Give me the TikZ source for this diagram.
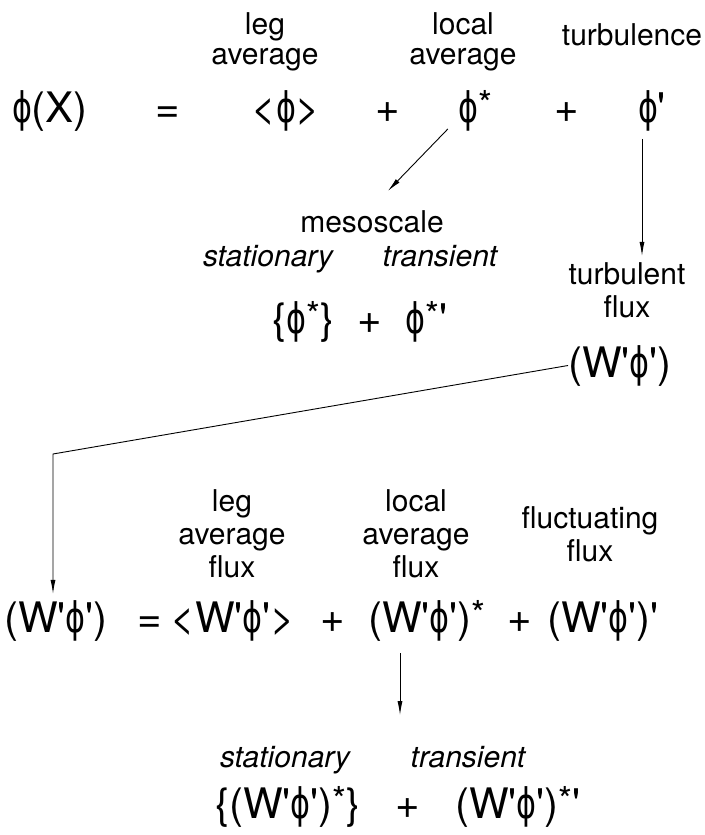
\documentclass[tikz,border=0pt]{standalone}
\usepackage{fontspec}
\usepackage{graphicx}
\setmainfont{TeX Gyre Heros}
\newfontfamily\phifont{DejaVu Sans}
\usetikzlibrary{arrows.meta}

\newcommand{\ph}{\scalebox{.72}[1]{\phifont\symbol{"03D5}}}
\newcommand{\pr}{\textquotesingle}
\newcommand{\st}{\raisebox{.12em}{\scalebox{.85}{*}}}
\newcommand{\wph}{(W\pr\ph\pr)}

\tikzset{
    lbl/.style={align=center, inner sep=0pt, anchor=base, font=\fontsize{30}{33}\selectfont},
    ital/.style={inner sep=0pt, anchor=base, font=\fontsize{30}{33}\selectfont\itshape},
    term/.style={inner sep=0pt, anchor=base, font=\fontsize{42}{44}\selectfont},
    arr/.style={-{Latex[length=14pt,width=5pt]}, line width=0.9pt}
}

\begin{document}
\begin{tikzpicture}[x=1pt, y=-1pt]

        \useasboundingbox (0,0) rectangle (704,835);

        % First decomposition (base = last line)
        \node[lbl] (legAvg) at (265,64) {leg\\[-3pt]average};
        \node[lbl] (locAvg) at (463,64) {local\\[-3pt]average};
        \node[lbl] (turb) at (632,45) {turbulence};

        \node[term] (phiX) at (50,122) {\ph(X)};
        \node[term] (eqA) at (168,122) {=};
        \node[term] (phiMean) at (286,122) {<\ph>};
        \node[term] (plusA) at (388,122) {+};
        \node[term] (phiStar) at (475,122) {\ph\st};
        \node[term] (plusB) at (567,122) {+};
        \node[term] (phiPrime) at (652,122) {\ph\pr};

        % Mesoscale part
        \node[lbl] (meso) at (372,232) {mesoscale};
        \node[ital] (statA) at (268,266) {stationary};
        \node[ital] (transA) at (440,266) {transient};
        \node[term] (mesoSum) at (360,333) {\{\ph\st\}\; +\; \ph\st\pr};

        % Turbulent flux
        \node[lbl] (turbFlux) at (627,317) {turbulent\\flux};
        \node[term] (flux) at (620,377) {\wph};

        \draw[arr] (phiStar.south west) ++(-10,-2) -- ++(-60,62);
        \draw[arr] (phiPrime.south) ++(-10,8) -- ++(0,117);

        % Second decomposition
        \node[lbl] (legFlux) at (232,577) {leg\\average\\flux};
        \node[lbl] (locFlux) at (416,577) {local\\average\\flux};
        \node[lbl] (flucFlux) at (590,561) {fluctuating\\flux};

        \node[term] (fluxL) at (56,632) {\wph};
        \node[term] (eqB) at (150,632) {=};
        \node[term] (fluxMean) at (233,632) {<W\pr\ph\pr>};
        \node[term] (plusC) at (333,632) {+};
        \node[term] (fluxStar) at (427,632) {\wph\st};
        \node[term] (plusD) at (520,632) {+};
        \node[term] (fluxPrime) at (603,632) {\wph\pr};

        \coordinate (bend) at (53,454);
        \draw[arr] (flux.west) -- (bend) -- ([yshift=6pt]fluxL.north -| bend);

        % Stationary and transient flux
        \node[ital] (statB) at (285,767) {stationary};
        \node[ital] (transB) at (468,767) {transient};
        \node[term] (fluxSum) at (398,818) {\{\wph\st\}\;\; +\;\; \wph\st\pr};

        \draw[arr] (fluxStar.south) ++(-27,12) -- ++(0,62);

    \end{tikzpicture}
\end{document}
